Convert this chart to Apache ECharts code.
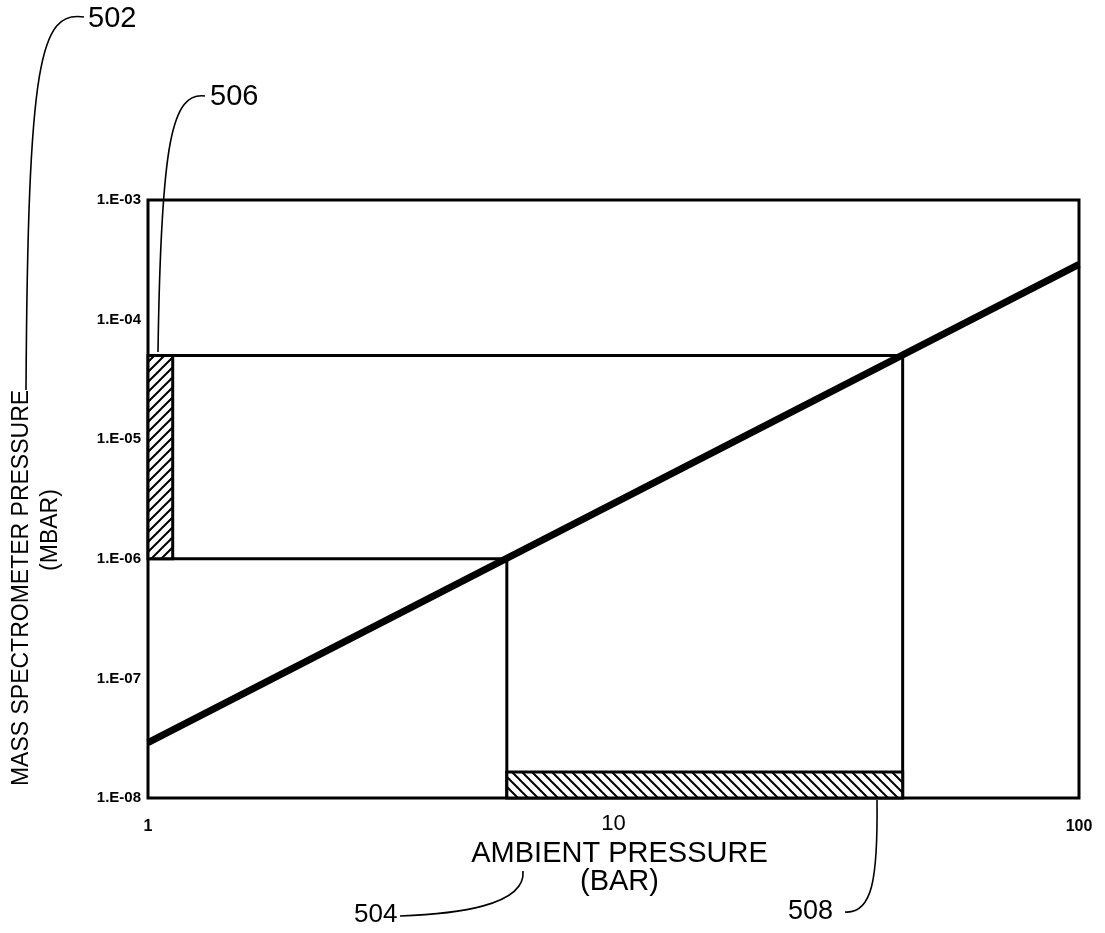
<!DOCTYPE html>
<html>
<head>
<meta charset="utf-8">
<script src="https://cdn.jsdelivr.net/npm/echarts@6/dist/echarts.min.js"></script>
<style>
html,body{margin:0;padding:0;background:#fff;}
#chart{width:1105px;height:933px;}
</style>
</head>
<body>
<div id="chart"></div>
<script>
// ---- data ----
const xTickLabels = {1: '1', 10: '10', 100: '100'};
const yTickLabels = {'-8': '1.E-08', '-7': '1.E-07', '-6': '1.E-06', '-5': '1.E-05', '-4': '1.E-04', '-3': '1.E-03'};
const lineX = [1, 100];
const lineY = [2.9e-8, 2.9e-4];
const lowRangeX = [1, 5.9, 5.9];
const lowRangeY = [1e-6, 1e-6, 1e-8];
const highRangeX = [1, 41.8, 41.8];
const highRangeY = [5e-5, 5e-5, 1e-8];
const band506X = [1, 1.13];
const band506Y = [1e-6, 5e-5];
const band508X = [5.9, 41.8];
const band508Y = [1e-8, 1.65e-8];

const FONT = 'Liberation Sans, Arial, sans-serif';

function makeHatch(dir) {
  const c = document.createElement('canvas');
  const s = 10;
  c.width = s; c.height = s;
  const g = c.getContext('2d');
  g.fillStyle = '#fff';
  g.fillRect(0, 0, s, s);
  g.strokeStyle = '#000';
  g.lineWidth = 2;
  g.beginPath();
  if (dir === '/') {
    g.moveTo(-2, s + 2); g.lineTo(s + 2, -2);
    g.moveTo(-2, 2); g.lineTo(2, -2);
    g.moveTo(s - 2, s + 2); g.lineTo(s + 2, s - 2);
  } else {
    g.moveTo(-2, -2); g.lineTo(s + 2, s + 2);
    g.moveTo(s - 2, -2); g.lineTo(s + 2, 2);
    g.moveTo(-2, s - 2); g.lineTo(2, s + 2);
  }
  g.stroke();
  return c;
}
const hatchFwd = makeHatch('/');
const hatchBack = makeHatch('\\');

const zip = (a, b) => a.map((v, i) => [v, b[i]]);

const chart = echarts.init(document.getElementById('chart'));

function bandItem(params, api) {
  const p0 = api.coord([api.value(0), api.value(2)]);
  const p1 = api.coord([api.value(1), api.value(3)]);
  const x = Math.min(p0[0], p1[0]), y = Math.min(p0[1], p1[1]);
  return {
    type: 'rect',
    shape: {x: x, y: y, width: Math.abs(p1[0] - p0[0]), height: Math.abs(p1[1] - p0[1])},
    style: {
      fill: {image: api.value(4) === 0 ? hatchFwd : hatchBack, repeat: 'repeat'},
      stroke: '#000',
      lineWidth: 3
    }
  };
}

const option = {
  backgroundColor: '#fff',
  animation: false,
  grid: {left: 148, right: 26, top: 200, bottom: 135, show: true, borderColor: '#000', borderWidth: 3, backgroundColor: 'transparent'},
  xAxis: {
    type: 'log', logBase: 10, min: 1, max: 100,
    axisLine: {show: false}, axisTick: {show: false}, splitLine: {show: false}, minorTick: {show: false},
    axisLabel: {
      margin: 15, color: '#000',
      formatter: function (v) {
        const k = Math.round(v);
        return k === 10 ? '{m|' + xTickLabels[k] + '}' : '{s|' + xTickLabels[k] + '}';
      },
      rich: {
        s: {fontFamily: FONT, fontSize: 16, fontWeight: 'bold', color: '#000', padding: [6, 0, 0, 0]},
        m: {fontFamily: FONT, fontSize: 22, color: '#000'}
      }
    },
    name: 'AMBIENT PRESSURE\n(BAR)', nameLocation: 'middle', nameGap: 40,
    nameTextStyle: {fontFamily: FONT, fontSize: 29, color: '#000', lineHeight: 28, padding: [0, 0, 0, 12]}
  },
  yAxis: {
    type: 'log', logBase: 10, min: 1e-8, max: 1e-3,
    axisLine: {show: false}, axisTick: {show: false}, splitLine: {show: false}, minorTick: {show: false},
    axisLabel: {
      margin: 7, color: '#000', fontFamily: FONT, fontSize: 15, fontWeight: 'bold',
      formatter: function (v) { return yTickLabels[String(Math.round(Math.log10(v)))]; }
    }
  },
  graphic: [
    {type: 'text', x: 22, y: 588, rotation: Math.PI / 2,
     style: {text: 'MASS SPECTROMETER PRESSURE', fontFamily: FONT, fontSize: 23, fill: '#000', textAlign: 'center', textVerticalAlign: 'middle'}},
    {type: 'text', x: 51, y: 530, rotation: Math.PI / 2,
     style: {text: '(MBAR)', fontFamily: FONT, fontSize: 23, fill: '#000', textAlign: 'center', textVerticalAlign: 'middle'}},
    {type: 'text', x: 88, y: 19, style: {text: '502', fontFamily: FONT, fontSize: 29, fill: '#000', textAlign: 'left', textVerticalAlign: 'middle'}},
    {type: 'text', x: 210, y: 97, style: {text: '506', fontFamily: FONT, fontSize: 29, fill: '#000', textAlign: 'left', textVerticalAlign: 'middle'}},
    {type: 'text', x: 354, y: 915, style: {text: '504', fontFamily: FONT, fontSize: 26, fill: '#000', textAlign: 'left', textVerticalAlign: 'middle'}},
    {type: 'text', x: 788, y: 912, style: {text: '508', fontFamily: FONT, fontSize: 27, fill: '#000', textAlign: 'left', textVerticalAlign: 'middle'}},
    {type: 'bezierCurve', shape: {x1: 84, y1: 17, cpx1: 40, cpy1: 10, cpx2: 28, cpy2: 60, x2: 26, y2: 390}, style: {stroke: '#000', lineWidth: 1.6, fill: null}},
    {type: 'bezierCurve', shape: {x1: 205, y1: 96, cpx1: 172, cpy1: 92, cpx2: 161, cpy2: 140, x2: 158, y2: 352}, style: {stroke: '#000', lineWidth: 1.6, fill: null}, z: 10},
    {type: 'bezierCurve', shape: {x1: 400, y1: 916, cpx1: 455, cpy1: 914, cpx2: 526, cpy2: 906, x2: 523, y2: 871}, style: {stroke: '#000', lineWidth: 1.6, fill: null}},
    {type: 'bezierCurve', shape: {x1: 845, y1: 912, cpx1: 872, cpy1: 914, cpx2: 878, cpy2: 880, x2: 877, y2: 800}, style: {stroke: '#000', lineWidth: 1.6, fill: null}}
  ],
  series: [
    {type: 'line', data: zip(highRangeX, highRangeY), symbol: 'none', lineStyle: {color: '#000', width: 3}, clip: false, z: 2},
    {type: 'line', data: zip(lowRangeX, lowRangeY), symbol: 'none', lineStyle: {color: '#000', width: 3}, clip: false, z: 2},
    {type: 'custom', renderItem: bandItem, encode: {x: [0, 1], y: [2, 3]}, clip: false, z: 3,
     data: [[band506X[0], band506X[1], band506Y[0], band506Y[1], 0],
            [band508X[0], band508X[1], band508Y[0], band508Y[1], 1]]},
    {type: 'line', data: zip(lineX, lineY), symbol: 'none', lineStyle: {color: '#000', width: 7}, z: 4}
  ]
};
chart.setOption(option);
</script>
</body>
</html>
